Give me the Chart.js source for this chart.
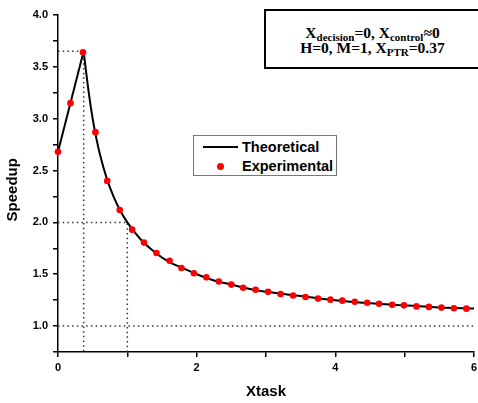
<!DOCTYPE html>
<html>
<head>
<meta charset="utf-8">
<script src="https://cdn.jsdelivr.net/npm/chart.js@4.4.1/dist/chart.umd.min.js"></script>
<style>
  html, body { margin: 0; padding: 0; background: #fff; overflow: hidden; }
  #wrap { position: relative; width: 478px; height: 403px; }
  #note {
    position: absolute; left: 264px; top: 9px; width: 217px; height: 60px;
    border: 2px solid #000; box-sizing: border-box; background: #fff;
    font: bold 15.5px "Liberation Serif", "Times New Roman", serif;
    text-align: center; color: #000; padding-top: 15px; line-height: 13px;
  }
  #note .s { font-size: 11px; position: relative; top: 3px; }
  #legend {
    position: absolute; left: 193px; top: 135px; width: 144px; height: 41px;
    border: 1px solid #777; box-sizing: border-box; background: #fff;
    font: bold 14.5px "Liberation Sans", Arial, sans-serif; color: #000;
  }
  #legend .row { position: absolute; left: 0; height: 18px; line-height: 18px; }
  #legend .txt { position: absolute; left: 48px; white-space: nowrap; }
  #legend .ln { position: absolute; left: 9px; top: 8px; width: 35px; height: 2px; background: #000; }
  #legend .dot { position: absolute; left: 23px; top: 6px; width: 7px; height: 7px; border-radius: 50%; background: #ff0000; }
</style>
</head>
<body>
<div id="wrap">
  <canvas id="chart" width="478" height="403"></canvas>
  <div id="note">
    <div>X<span class="s">decision</span>=0, X<span class="s">control</span>&asymp;0</div>
    <div>H=0, M=1, X<span class="s">PTR</span>=0.37</div>
  </div>
  <div id="legend">
    <div class="row" style="top:2px"><div class="ln"></div><span class="txt">Theoretical</span></div>
    <div class="row" style="top:21px"><div class="dot"></div><span class="txt">Experimental</span></div>
  </div>
</div>
<script>
// Measured speedup vs Xtask
const expX = [0, 0.18, 0.36, 0.54, 0.71, 0.89, 1.07, 1.24, 1.42, 1.61, 1.78, 1.96,
  2.14, 2.32, 2.50, 2.67, 2.85, 3.03, 3.21, 3.39, 3.57, 3.75, 3.93, 4.10, 4.28,
  4.46, 4.63, 4.82, 4.99, 5.17, 5.35, 5.53, 5.71, 5.89];
const expY = [2.68, 3.15, 3.64, 2.87, 2.40, 2.12, 1.93, 1.805, 1.705, 1.63, 1.56, 1.51,
  1.47, 1.43, 1.40, 1.37, 1.35, 1.33, 1.31, 1.295, 1.28, 1.265, 1.255, 1.245, 1.235,
  1.225, 1.215, 1.205, 1.20, 1.19, 1.185, 1.178, 1.172, 1.168];

// Theoretical curve: rising part up to the peak, then decaying part
const riseX = [0, 0.37];
const riseY = [2.68, 3.65];
const fallX = [0.37, 0.40, 0.45, 0.50, 0.55, 0.60, 0.70, 0.80, 0.90, 1.00, 1.10, 1.20,
  1.40, 1.60, 1.80, 2.00, 2.25, 2.50, 2.75, 3.00, 3.50, 4.00, 4.50, 5.00, 5.50, 6.00];
const fallY = [3.65, 3.48, 3.22, 3.00, 2.82, 2.67, 2.43, 2.25, 2.11, 2.00, 1.91, 1.83,
  1.71, 1.62, 1.56, 1.50, 1.44, 1.40, 1.36, 1.33, 1.29, 1.25, 1.22, 1.20, 1.18, 1.17];

// Dotted guide lines (peak and x=1 markers, asymptote)
const guideX = [0.37, 1.0];
const guideY = [3.65, 2.0];
const asymptote = 1.0;

const xMin = 0, xMax = 6;
const yMin = 0.75, yMax = 4.0;

function pts(xs, ys) {
  return xs.map((x, i) => ({ x: x, y: ys[i] }));
}

const dotted = {
  borderColor: '#333',
  borderWidth: 1.5,
  borderDash: [1.5, 3.2],
  pointRadius: 0,
  showLine: true,
  fill: false
};

const datasets = [
  {
    label: 'Experimental',
    data: pts(expX, expY),
    showLine: false,
    pointRadius: 3.3,
    pointBackgroundColor: '#ff0000',
    pointBorderWidth: 0,
    clip: false
  },
  {
    label: 'Theoretical',
    data: pts(riseX, riseY),
    showLine: true,
    borderColor: '#000',
    borderWidth: 2,
    pointRadius: 0
  },
  {
    label: 'Theoretical (decay)',
    data: pts(fallX, fallY),
    showLine: true,
    borderColor: '#000',
    borderWidth: 2,
    pointRadius: 0,
    cubicInterpolationMode: 'monotone'
  }
];

guideX.forEach((gx, i) => {
  datasets.push(Object.assign({}, dotted, {
    data: [{ x: xMin, y: guideY[i] }, { x: gx, y: guideY[i] }, { x: gx, y: yMin }]
  }));
});
datasets.push(Object.assign({}, dotted, {
  data: [{ x: xMin, y: asymptote }, { x: xMax, y: asymptote }]
}));

const tickFont = { family: '"Liberation Sans", Arial, sans-serif', size: 11, weight: 'bold' };
const titleFont = { family: '"Liberation Sans", Arial, sans-serif', size: 15, weight: 'bold' };

new Chart(document.getElementById('chart'), {
  type: 'scatter',
  data: { datasets: datasets },
  options: {
    responsive: false,
    animation: false,
    layout: { padding: { top: 15, right: 3, left: 0, bottom: 0 } },
    plugins: {
      legend: { display: false },
      tooltip: { enabled: false }
    },
    scales: {
      x: {
        type: 'linear',
        min: xMin,
        max: xMax,
        afterFit: (s) => { s.height = 51; s.paddingRight = 0; s.paddingLeft = 0; },
        ticks: {
          stepSize: 1,
          color: '#000',
          font: tickFont,
          padding: 4,
          maxRotation: 0,
          callback: (v) => (v % 2 === 0 ? String(v) : '')
        },
        grid: { drawOnChartArea: false, drawTicks: true, tickLength: 5, color: '#000', lineWidth: 1.5 },
        border: { display: true, color: '#000', width: 1.5 },
        title: { display: true, text: 'Xtask', color: '#000', font: titleFont, padding: { top: 0, bottom: 2 } }
      },
      y: {
        type: 'linear',
        min: yMin,
        max: yMax,
        afterFit: (s) => { s.width = 58; },
        ticks: {
          stepSize: 0.25,
          color: '#000',
          font: tickFont,
          padding: 5,
          callback: (v) => (Math.abs(v * 2 - Math.round(v * 2)) < 1e-6 ? v.toFixed(1) : '')
        },
        grid: { drawOnChartArea: false, drawTicks: true, tickLength: 5, color: '#000', lineWidth: 1.5 },
        border: { display: true, color: '#000', width: 1.5 },
        // trailing spaces nudge the rotated title down a little, as in the original
        title: { display: true, text: 'Speedup   ', color: '#000', font: titleFont, padding: { top: 4, bottom: 0 } }
      }
    }
  }
});
</script>
</body>
</html>
